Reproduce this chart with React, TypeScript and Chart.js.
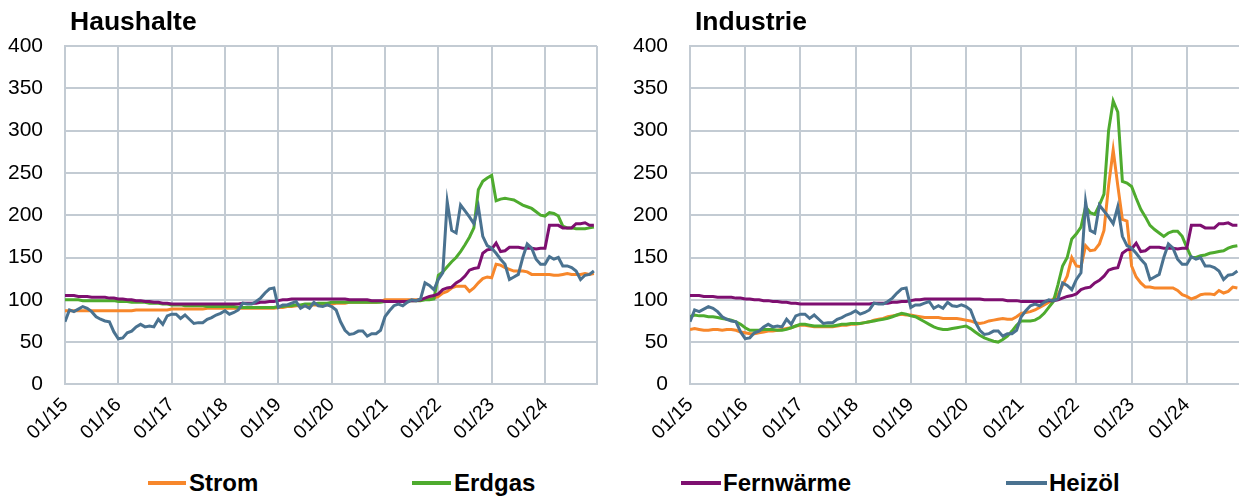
import React, { useEffect, useRef } from "react";
import { Chart, registerables } from "chart.js";

Chart.register(...registerables);

// ---------- data ----------
const xTickLabels = ["01/15", "01/16", "01/17", "01/18", "01/19", "01/20", "01/21", "01/22", "01/23", "01/24"];
const seriesNames = ["Strom", "Erdgas", "Fernwärme", "Heizöl"];
const panelTitles = ["Haushalte", "Industrie"];

const hhStrom = [
  87, 87, 87, 87, 87, 87, 87, 87, 87, 87, 87, 87,
  87, 87, 87, 87, 88, 88, 88, 88, 88, 88, 88, 88,
  89, 89, 89, 89, 89, 89, 89, 89, 90, 90, 90, 90,
  90, 90, 90, 90, 90, 90, 90, 90, 90, 90, 90, 90,
  91, 91, 92, 92, 93, 93, 93, 93, 94, 94, 94, 94,
  95, 96, 96, 96, 97, 97, 97, 97, 97, 97, 97, 98,
  100, 100, 100, 100, 100, 100, 100, 100, 100, 101, 101, 102,
  104, 108, 110, 114, 116, 116, 116, 110, 114, 120, 125, 127,
  126, 142, 141, 138, 136, 134, 134, 134, 133, 130, 130, 130,
  130, 130, 129, 129, 130, 131, 130, 130, 130, 131, 130, 131,
];
const hhErdgas = [
  100, 100, 100, 100, 99, 99, 99, 99, 99, 99, 99, 99,
  98, 98, 98, 97, 97, 97, 97, 96, 96, 96, 95, 95,
  94, 94, 94, 93, 93, 93, 93, 93, 92, 92, 92, 92,
  92, 92, 92, 91, 91, 91, 91, 91, 91, 91, 91, 91,
  92, 92, 93, 93, 94, 94, 95, 95, 95, 96, 96, 96,
  97, 97, 97, 97, 97, 97, 97, 97, 97, 97, 97, 97,
  98, 98, 98, 98, 98, 98, 99, 99, 99, 100, 100, 101,
  129, 133, 139, 145, 150, 157, 165, 174, 185, 230, 240, 244,
  247, 217, 219, 220, 219, 218, 215, 212, 210, 208, 204, 200,
  199, 203, 202, 199, 187, 185, 185, 184, 184, 184, 185, 186,
];
const hhFernwaerme = [
  105, 105, 105, 104, 104, 104, 103, 103, 103, 103, 102, 102,
  101, 101, 100, 100, 99, 99, 98, 98, 97, 97, 96, 96,
  95, 95, 95, 95, 95, 95, 95, 95, 95, 95, 95, 95,
  95, 95, 95, 95, 96, 96, 96, 96, 97, 97, 98, 98,
  99, 100, 100, 101, 101, 101, 101, 101, 101, 101, 101, 101,
  101, 101, 101, 101, 100, 100, 100, 100, 100, 99, 99, 99,
  98, 98, 98, 98, 98, 98, 99, 99, 100, 102, 104, 105,
  107, 112, 114, 115, 120, 123, 128, 135, 137, 138, 155, 159,
  160, 167, 157, 158, 162, 162, 162, 161, 161, 161, 160, 161,
  161, 188, 188, 188, 185, 185, 185, 190, 190, 191, 188, 188,
];
const hhHeizoel = [
  74, 88, 86, 89, 92, 90, 86, 80, 77, 75, 74, 62,
  54, 55, 61, 63, 68, 71, 68, 69, 68, 77, 71, 81,
  83, 83, 78, 82, 77, 72, 73, 73, 77, 79, 82, 84,
  87, 83, 85, 88, 96, 95, 95, 98, 102, 108, 113, 114,
  91, 94, 94, 96, 98, 90, 93, 90, 97, 93, 92, 94,
  92, 88, 74, 64, 59, 60, 63, 63, 57, 60, 60, 64,
  80, 87, 93, 95, 93, 97, 100, 99, 101, 120, 117, 112,
  124, 132, 216, 182, 179, 212, 205, 198, 190, 210, 175, 164,
  161, 155, 148, 142, 124, 127, 130, 150, 166, 161, 148, 142,
  142, 151, 148, 150, 140, 140, 138, 134, 124, 129, 130, 134,
];

const indStrom = [
  65, 66, 65, 64, 64, 65, 65, 64, 65, 65, 64, 62,
  61, 60, 60, 61, 62, 63, 63, 64, 65, 66, 67, 69,
  70, 70, 69, 68, 68, 68, 68, 68, 69, 70, 70, 71,
  71, 72, 73, 74, 76, 77, 78, 80, 81, 82, 83, 82,
  82, 81, 80, 79, 79, 79, 79, 78, 78, 78, 78, 77,
  76, 75, 73, 72, 73, 75, 76, 77, 78, 77, 77, 80,
  84, 85, 86, 88, 91, 94, 97, 101, 106, 117, 128, 150,
  140, 139, 164, 158, 159, 166, 182, 235, 277, 235, 195, 193,
  140, 127, 120, 115, 115, 114, 114, 114, 114, 114, 111, 106,
  104, 101, 103, 106, 107, 107, 106, 111, 108, 110, 115, 114,
];
const indErdgas = [
  80, 82, 81, 81, 80, 80, 79, 78, 77, 76, 74, 71,
  67, 64, 64, 64, 65, 65, 65, 64, 64, 65, 67, 69,
  71, 71, 70, 69, 69, 69, 69, 69, 70, 71, 71, 72,
  72, 72, 73, 74, 75, 76, 77, 78, 80, 82, 84, 83,
  81, 80, 77, 74, 71, 68, 66, 65, 65, 66, 67, 68,
  69, 66, 62, 58, 55, 53, 51, 50, 53, 57, 63, 70,
  75, 75, 75, 76, 79, 84, 91, 98, 118, 140, 150, 172,
  178, 186, 210, 203, 201, 212, 225, 300, 335, 322, 240, 238,
  234, 220, 207, 198, 188, 183, 179, 175, 179, 181, 181, 175,
  162, 150, 150, 152, 153, 155, 156, 157, 158, 161, 163, 164,
];
const indFernwaerme = [
  105, 105, 105, 104, 104, 104, 103, 103, 103, 103, 102, 102,
  101, 101, 100, 100, 99, 99, 98, 98, 97, 97, 96, 96,
  95, 95, 95, 95, 95, 95, 95, 95, 95, 95, 95, 95,
  95, 95, 95, 95, 96, 96, 96, 96, 97, 97, 98, 98,
  99, 100, 100, 101, 101, 101, 101, 101, 101, 101, 101, 101,
  101, 101, 101, 101, 100, 100, 100, 100, 100, 99, 99, 99,
  98, 98, 98, 98, 98, 98, 99, 99, 100, 102, 104, 105,
  107, 112, 114, 115, 120, 123, 128, 135, 137, 138, 155, 159,
  160, 167, 157, 158, 162, 162, 162, 161, 161, 161, 160, 161,
  161, 188, 188, 188, 185, 185, 185, 190, 190, 191, 188, 188,
];
const indHeizoel = [
  74, 88, 86, 89, 92, 90, 86, 80, 77, 75, 74, 62,
  54, 55, 61, 63, 68, 71, 68, 69, 68, 77, 71, 81,
  83, 83, 78, 82, 77, 72, 73, 73, 77, 79, 82, 84,
  87, 83, 85, 88, 96, 95, 95, 98, 102, 108, 113, 114,
  91, 94, 94, 96, 98, 90, 93, 90, 97, 93, 92, 94,
  92, 88, 74, 64, 59, 60, 63, 63, 57, 60, 60, 64,
  80, 87, 93, 95, 93, 97, 100, 99, 101, 120, 117, 112,
  124, 132, 216, 182, 179, 212, 205, 198, 190, 210, 175, 164,
  161, 155, 148, 142, 124, 127, 130, 150, 166, 161, 148, 142,
  142, 151, 148, 150, 140, 140, 138, 134, 124, 129, 130, 134,
];

// ---------- styles ----------
const COLORS = ["#F7872B", "#4EAB2E", "#7E0F70", "#4A7290"];
const GRID = "#C3CBD3";
const X_MAX = 119.7;

type PanelProps = {
  left: number;
  width: number;
  axisWidth: number;
  padRight: number;
  series: number[][];
};

function Panel({ left, width, axisWidth, padRight, series }: PanelProps) {
  const ref = useRef<HTMLCanvasElement | null>(null);
  useEffect(() => {
    if (!ref.current) return;
    const height = 450;
    const chart = new Chart(ref.current, {
      type: "line",
      data: {
        datasets: series.map((arr, k) => ({
          label: seriesNames[k],
          data: arr.map((v, i) => ({ x: i, y: v })),
          borderColor: COLORS[k],
          backgroundColor: COLORS[k],
          borderWidth: 3,
          pointRadius: 0,
          tension: 0,
          order: 3 - k,
        })),
      },
      options: {
        animation: false,
        responsive: false,
        events: [],
        layout: { padding: { left: 0, top: 46, right: padRight, bottom: 0 } },
        plugins: { legend: { display: false }, tooltip: { enabled: false }, title: { display: false } },
        scales: {
          x: {
            type: "linear",
            min: 0,
            max: X_MAX,
            afterBuildTicks: (s: any) => {
              const t = xTickLabels.map((_, i) => ({ value: i * 12 }));
              t.push({ value: X_MAX });
              s.ticks = t;
            },
            afterFit: (s: any) => {
              s.height = height - 384.4;
              s.paddingLeft = 0;
              s.paddingRight = 0;
            },
            grid: { color: GRID, lineWidth: 2, drawTicks: false },
            border: { color: GRID, width: 2 },
            ticks: {
              autoSkip: false,
              maxRotation: 45,
              minRotation: 45,
              padding: 9,
              color: "#000",
              font: { family: "Liberation Sans", size: 19.5 },
              callback: (value: any) => {
                const v = Number(value);
                const idx = v / 12;
                if (Number.isInteger(idx) && idx < xTickLabels.length) return xTickLabels[idx];
                return "";
              },
            },
          },
          y: {
            min: 0,
            max: 400,
            afterFit: (s: any) => {
              s.width = axisWidth;
              s.paddingTop = 0;
              s.paddingBottom = 0;
            },
            grid: { color: GRID, lineWidth: 2, drawTicks: false },
            border: { color: GRID, width: 2 },
            ticks: {
              stepSize: 50,
              padding: 22,
              color: "#000",
              font: { family: "Liberation Sans", size: 21 },
            },
          },
        },
      },
    } as any);
    return () => chart.destroy();
  }, []);
  return (
    <canvas
      ref={ref}
      width={width}
      height={450}
      style={{ position: "absolute", left, top: 0, width, height: 450 }}
    />
  );
}

const legendPos = [
  { line: 148, w: 38, text: 189 },
  { line: 412, w: 39, text: 454 },
  { line: 681, w: 40, text: 723 },
  { line: 1006, w: 41, text: 1049 },
];

export default function App() {
  return (
    <div
      style={{
        position: "absolute",
        left: 0,
        top: 0,
        width: 1239,
        height: 499,
        overflow: "hidden",
        background: "#fff",
        fontFamily: "Liberation Sans, Arial, sans-serif",
      }}
    >
      <Panel left={0} width={620} axisWidth={65} padRight={23} series={[hhStrom, hhErdgas, hhFernwaerme, hhHeizoel]} />
      <Panel left={620} width={622} axisWidth={70} padRight={1.4} series={[indStrom, indErdgas, indFernwaerme, indHeizoel]} />
      <div style={{ position: "absolute", left: 70, top: 8, fontSize: 26.5, fontWeight: 700, lineHeight: "26px", color: "#000" }}>
        {panelTitles[0]}
      </div>
      <div style={{ position: "absolute", left: 695, top: 8, fontSize: 26.5, fontWeight: 700, lineHeight: "26px", color: "#000" }}>
        {panelTitles[1]}
      </div>
      {seriesNames.map((name, k) => (
        <React.Fragment key={name}>
          <div
            style={{
              position: "absolute",
              left: legendPos[k].line,
              top: 481,
              width: legendPos[k].w,
              height: 4,
              background: COLORS[k],
            }}
          />
          <div
            style={{
              position: "absolute",
              left: legendPos[k].text,
              top: 470,
              fontSize: 24,
              lineHeight: "26px",
              fontWeight: 700,
              color: "#000",
            }}
          >
            {name}
          </div>
        </React.Fragment>
      ))}
    </div>
  );
}
